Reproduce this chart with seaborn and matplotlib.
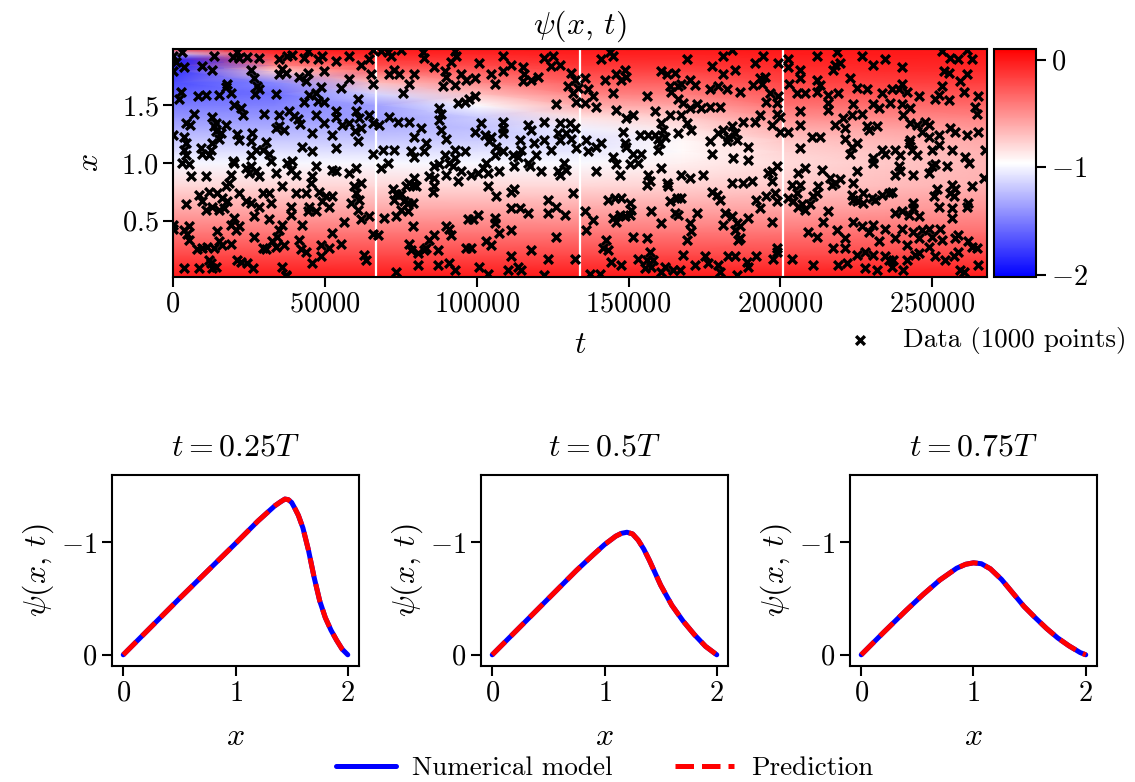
import numpy as np
import matplotlib
matplotlib.use("Agg")
import matplotlib.pyplot as plt
import seaborn as sns

# Durée totale de la simulation
T_END = 268000

x_grid = [0.0, 0.2, 0.4, 0.6, 0.8, 1.0, 1.1, 1.2, 1.3, 1.4, 1.5, 1.6, 1.7, 1.8, 1.85, 1.9, 1.95, 2.0]
t_cols = [0.0, 0.125, 0.25, 0.375, 0.5, 0.625, 0.75, 0.875, 1.0]
psi_t0000 = [0, -0.2, -0.4, -0.6, -0.8, -1.0, -1.1, -1.2, -1.3, -1.4, -1.5, -1.6, -1.7, -1.8, -1.85, -1.88, -1.2, 0]
psi_t0125 = [0, -0.2, -0.4, -0.6, -0.79, -0.99, -1.09, -1.19, -1.29, -1.39, -1.48, -1.56, -1.45, -0.75, -0.47, -0.27, -0.11, 0]
psi_t0250 = [0, -0.2, -0.4, -0.6, -0.79, -0.99, -1.09, -1.19, -1.28, -1.36, -1.355, -1.13, -0.69, -0.33, -0.22, -0.13, -0.05, 0]
psi_t0375 = [0, -0.2, -0.4, -0.6, -0.8, -0.99, -1.08, -1.17, -1.22, -1.17, -0.97, -0.70, -0.47, -0.29, -0.2, -0.12, -0.05, 0]
psi_t0500 = [0, -0.2, -0.4, -0.6, -0.8, -0.98, -1.055, -1.09, -1.02, -0.84, -0.62, -0.44, -0.30, -0.18, -0.125, -0.075, -0.035, 0]
psi_t0625 = [0, -0.2, -0.4, -0.59, -0.77, -0.90, -0.94, -0.93, -0.86, -0.74, -0.58, -0.43, -0.30, -0.18, -0.13, -0.08, -0.035, 0]
psi_t0750 = [0, -0.2, -0.395, -0.58, -0.74, -0.818, -0.78, -0.72, -0.62, -0.49, -0.38, -0.28, -0.19, -0.11, -0.08, -0.05, -0.02, 0]
psi_t0875 = [0, -0.2, -0.38, -0.55, -0.68, -0.73, -0.71, -0.66, -0.58, -0.47, -0.36, -0.25, -0.16, -0.09, -0.06, -0.035, -0.015, 0]
psi_t1000 = [0, -0.19, -0.37, -0.52, -0.63, -0.66, -0.64, -0.60, -0.53, -0.44, -0.34, -0.25, -0.16, -0.09, -0.06, -0.035, -0.015, 0]

# Points de mesure (t en milliers, x)
t_obs_k = [
    0.0, 2.9, 0.9, 3.6, 0.1, 13.5, 9.7, 13.0, 19.6, 21.8, 21.2, 24.5, 28.3, 25.6, 35.0, 37.7, 39.3, 36.0, 35.0, 37.1,
    43.2, 44.3, 47.6, 49.2, 49.8, 53.6, 58.0, 61.9, 64.6, 65.7, 41.5, 43.7, 44.3, 58.0, 65.2, 65.7, 26.7, 27.8, 28.3, 27.0,
    17.9, 19.0, 17.4, 33.9, 8.3, 10.8, 15.2, 2.5, 2.0, 44.8, 47.0, 48.7, 47.6, 49.8, 43.2, 55.3, 60.8, 20.1, 22.3, 22.9,
    30.0, 35.0, 38.2, 39.9, 41.0, 41.8, 47.0, 49.8, 53.6, 53.6, 55.8, 58.0, 60.2, 61.3, 61.9, 60.0, 64.6, 65.7, 6.9, 13.0,
    14.1, 17.6, 13.5, 4.2, 5.5, 33.9, 36.6, 35.0, 0.1, 3.6, 4.2, 3.6, 4.2, 9.1, 9.7, 12.4, 13.0, 15.2, 15.7, 14.1,
    21.2, 21.8, 26.1, 25.6, 30.6, 27.3, 29.5, 31.6, 25.6, 42.6, 45.9, 45.9, 52.5, 53.6, 60.8, 65.7, 19.6, 39.3, 11.9,
    68.5, 70.7, 71.8, 75.1, 82.2, 82.8, 92.7, 93.2, 86.1, 89.4, 89.9, 91.6, 94.9, 96.5, 92.7, 88.8, 77.8, 79.5, 71.2, 72.9,
    74.5, 75.6, 99.3, 100.9, 104.8, 105.9, 108.6, 108.6, 111.4, 115.2, 115.5, 115.2, 118.0, 120.1, 122.3, 125.1, 124.5, 127.3, 131.1, 132.2,
    130.0, 131.7, 132.8, 126.2, 93.8, 96.0, 97.6, 99.3, 87.7, 88.3, 87.7, 71.2, 74.0, 77.8, 88.3, 89.9, 79.5, 83.3, 82.8, 78.4,
    79.5, 72.9, 69.0, 99.3, 102.6, 104.8, 104.2, 106.4, 108.6, 105.9, 108.6, 108.6, 108.6, 111.9, 113.5, 114.1, 116.8, 118.0, 122.3, 122.3,
    124.5, 127.3, 126.7, 127.3, 129.5, 130.6, 131.1, 132.2, 132.8, 119.6, 92.7, 89.4, 96.0, 92.7, 67.9, 133.3, 81.7, 101.5, 114.6, 119.0,
    141.0, 143.8, 144.9, 142.1, 146.0, 148.7, 149.3, 147.6, 135.5, 136.6, 138.3, 135.5, 139.4, 144.9, 146.0, 149.3, 151.5, 155.9, 160.8, 162.5,
    165.2, 169.1, 170.2, 171.8, 163.6, 164.1, 166.3, 167.4, 166.3, 168.0, 170.2, 172.4, 174.0, 176.8, 180.1, 176.8, 179.5, 182.3, 186.7, 181.2,
    177.3, 181.2, 183.9, 185.0, 191.6, 194.3, 193.2, 194.9, 191.0, 193.8, 199.3, 196.5, 199.3, 198.7, 195.4, 198.7, 199.8, 197.1, 193.2, 191.6,
    187.8, 158.6, 163.6, 167.4, 169.1, 170.7, 160.8, 161.4, 161.9, 159.7, 160.3, 159.7, 158.6, 156.4, 153.7, 148.2, 148.7, 149.3, 151.5, 154.2,
    144.9, 136.1, 136.6, 139.4, 141.0, 166.3, 176.8, 177.3, 179.5, 181.2, 182.8, 183.9, 185.0, 185.6, 182.3, 184.5, 189.4, 189.4, 199.8,
    202.6, 202.6, 202.8, 206.4, 206.4, 211.9, 211.9, 213.0, 211.9, 208.1, 205.3, 218.5, 218.0, 217.4, 219.6, 222.9, 226.8, 230.6, 234.5, 240.0,
    225.1, 228.4, 233.4, 236.7, 238.9, 241.6, 240.0, 245.5, 242.7, 253.2, 255.9, 258.6, 261.4, 263.0, 253.7, 255.4, 261.4, 259.2, 260.3, 253.2,
    252.1, 255.4, 251.0, 265.2, 264.1, 264.7, 215.8, 215.8, 215.8, 219.1, 224.0, 230.6, 232.3, 236.1, 240.0, 240.5, 206.4, 206.4, 223.5, 226.8,
    220.7, 218.0, 221.3, 228.4, 229.0, 231.7, 242.7, 244.9, 247.7, 248.8, 246.6, 252.1, 255.9, 257.5, 261.4, 265.2, 202.6, 210.3, 213.0, 221.3,
    223.5, 225.1, 222.9, 230.6, 233.4, 234.5, 237.8, 239.4, 242.2, 242.7, 243.3, 244.9, 248.8, 249.9, 252.1, 256.5, 260.8, 267.4, 206.4,
    3.1, 5.3, 5.8, 10.8, 20.1, 24.0, 25.6, 27.3, 25.1, 28.4, 32.2, 33.8, 37.7, 38.8, 40.4, 47.0, 45.9, 45.4, 52.5, 53.6,
    58.0, 60.2, 61.9, 59.7, 60.2, 61.3, 19.0, 18.5, 17.4, 36.0, 8.6, 9.7, 11.9, 14.6, 16.3, 13.0, 10.8, 15.2, 16.8, 4.2,
    17.9, 21.8, 24.0, 25.6, 28.4, 29.5, 31.7, 32.2, 40.4, 43.7, 48.1, 49.2, 50.3, 52.5, 44.8, 44.3, 47.0, 38.8, 38.8, 31.7,
    34.9, 36.0, 34.4, 32.7, 33.8, 36.6, 30.6, 29.5, 26.7, 26.7, 20.1, 19.0, 20.7, 21.8, 19.0, 15.2, 14.6, 5.3, 3.6, 4.7,
    5.3, 0.1, 0.1, 8.0, 9.7, 11.3, 13.5, 16.3, 11.9, 12.4, 14.1, 13.0, 21.2, 22.3, 24.5, 26.2, 8.6, 3.6, 36.0, 37.1,
    42.6, 41.5, 42.1, 43.7, 45.9, 48.7, 48.7, 51.4, 52.5, 55.3, 56.4, 58.6, 60.8, 61.9, 64.6, 65.7, 63.0, 63.5, 37.1, 51.4,
    68.5, 70.7, 86.1, 87.7, 89.9, 91.0, 92.1, 94.9, 93.8, 98.2, 100.4, 102.0, 103.1, 103.7, 107.5, 112.4, 116.8, 117.4, 121.2, 126.7,
    127.3, 128.9, 129.5, 86.1, 86.1, 85.5, 84.4, 79.5, 78.9, 77.8, 76.7, 80.0, 72.3, 73.4, 72.9, 75.1, 76.2, 77.3, 78.9, 75.1,
    77.3, 73.4, 69.6, 103.7, 106.4, 111.3, 112.4, 123.4, 126.2, 131.7, 111.3, 114.1, 116.8, 123.4, 129.0, 100.4, 97.1, 98.7, 105.9, 105.9,
    78.9, 89.9, 91.0, 91.6, 86.1, 84.4, 107.5, 111.3, 126.2, 77.8, 78.4, 80.6, 82.8, 83.3, 87.2, 96.5, 98.2, 103.1, 104.8, 118.0,
    111.3, 123.4, 132.2, 80.6, 87.2, 91.0, 92.7, 100.9, 103.7, 110.3, 113.5, 114.6, 73.4, 122.3, 67.4,
    139.4, 146.0, 147.1, 150.4, 153.1, 156.4, 157.0, 155.9, 160.8, 162.5, 163.0, 167.4, 170.2, 174.6, 177.3, 179.0, 180.1, 183.9, 187.8, 190.5,
    196.0, 197.1, 198.7, 197.1, 198.2, 198.7, 195.4, 192.1, 193.2, 143.2, 145.4, 147.6, 150.4, 150.9, 150.4, 147.1, 144.9, 146.0, 148.7, 135.5,
    138.3, 136.1, 157.5, 160.8, 163.6, 165.8, 167.4, 165.2, 166.3, 172.4, 170.2, 170.7, 169.1, 181.7, 181.2, 183.9, 185.6, 186.7, 189.4, 185.0,
    186.7, 186.1, 197.1, 151.5, 155.9, 142.7, 141.6, 143.2, 157.0, 153.1, 155.9, 158.1, 157.5, 155.3, 144.3, 147.6, 140.5, 137.2, 160.8, 161.9,
    164.7, 166.9, 168.0, 171.8, 175.1, 176.2, 179.5, 180.1, 182.8, 185.0, 185.6, 188.9, 189.4, 192.1, 197.6, 198.7, 198.7,
    205.9, 208.1, 213.6, 203.7, 206.4, 205.3, 202.6, 204.2, 205.9, 207.0, 208.1, 209.7, 210.8, 211.9, 212.5, 216.3, 218.0, 219.6, 216.9, 215.8,
    214.1, 224.0, 225.1, 223.5, 224.0, 227.3, 225.1, 227.3, 230.1, 231.2, 233.4, 235.6, 236.7, 230.6, 237.8, 238.9, 239.4, 243.8, 248.8, 249.9,
    251.0, 254.8, 262.0, 263.0, 266.9, 251.5, 250.4, 256.5, 257.5, 255.9, 257.0, 261.9, 261.4, 252.1, 256.5, 256.5, 237.8, 240.0, 242.2, 243.8,
    243.8, 245.5, 224.0, 226.8, 229.0, 230.6, 234.5, 237.8, 240.0, 243.8, 245.5, 246.6, 248.8, 249.9, 252.6, 253.2, 257.5, 258.6, 261.9, 263.0,
    264.7, 209.2, 211.9, 218.5, 221.3, 217.4, 221.3, 225.1, 227.9, 230.6, 232.3, 234.5, 235.6, 237.2, 236.7, 241.6, 244.4, 245.5, 248.8, 251.0,
    254.3, 257.0, 258.6, 203.7, 210.8, 219.1, 221.8, 227.9, 231.7, 240.5, 241.6, 259.2, 260.3, 265.2,
]
x_obs = [
    1.93, 1.96, 1.88, 1.83, 1.80, 1.93, 1.84, 1.81, 1.92, 1.91, 1.96, 1.92, 1.91, 1.81, 1.90, 1.93, 1.94, 1.82, 1.77, 1.78,
    1.91, 1.97, 1.90, 1.93, 1.80, 1.89, 1.93, 1.85, 1.90, 1.98, 1.75, 1.71, 1.78, 1.73, 1.77, 1.69, 1.74, 1.67, 1.64, 1.60,
    1.69, 1.61, 1.66, 1.60, 1.58, 1.59, 1.59, 1.62, 1.56, 1.59, 1.61, 1.66, 1.54, 1.53, 1.53, 1.65, 1.56, 1.50, 1.48, 1.42,
    1.43, 1.42, 1.45, 1.41, 1.38, 1.34, 1.42, 1.35, 1.45, 1.40, 1.33, 1.35, 1.45, 1.39, 1.30, 1.28, 1.42, 1.35, 1.43, 1.40,
    1.35, 1.33, 1.32, 1.35, 1.33, 1.30, 1.29, 1.32, 1.24, 1.23, 1.17, 1.11, 1.07, 1.13, 1.08, 1.11, 1.17, 1.21, 1.26, 1.28,
    1.25, 1.20, 1.26, 1.19, 1.18, 1.11, 1.11, 1.08, 1.07, 1.14, 1.10, 1.26, 1.24, 1.13, 1.19, 1.08, 1.02, 1.02, 1.07,
    1.97, 1.96, 1.93, 1.98, 1.96, 1.91, 1.97, 1.93, 1.83, 1.80, 1.75, 1.88, 1.77, 1.72, 1.68, 1.67, 1.69, 1.77, 1.77, 1.81,
    1.77, 1.61, 1.74, 1.87, 1.77, 1.69, 1.93, 1.80, 1.85, 1.83, 1.77, 1.71, 1.72, 1.75, 1.91, 1.93, 1.84, 1.85, 1.78, 1.72,
    1.67, 1.61, 1.53, 1.51, 1.52, 1.53, 1.56, 1.58, 1.48, 1.43, 1.37, 1.40, 1.36, 1.36, 1.29, 1.21, 1.23, 1.17, 1.10, 1.10,
    1.05, 1.11, 1.11, 1.27, 1.24, 1.23, 1.19, 1.14, 1.10, 1.07, 1.36, 1.30, 1.26, 1.07, 1.05, 1.20, 1.33, 1.29, 1.36, 1.20,
    1.11, 1.35, 1.26, 1.20, 1.26, 1.35, 1.21, 1.30, 1.13, 1.07, 1.11, 1.07, 1.10, 1.04, 1.33, 1.65, 1.30, 1.35, 1.11, 1.17,
    1.90, 1.96, 1.93, 1.72, 1.77, 1.81, 1.75, 1.72, 1.74, 1.64, 1.58, 1.52, 1.49, 1.61, 1.46, 1.39, 1.42, 1.58, 1.80, 1.77,
    1.78, 1.90, 1.72, 1.68, 1.67, 1.62, 1.67, 1.69, 1.56, 1.52, 1.48, 1.51, 1.48, 1.49, 1.49, 1.64, 1.67, 1.64, 1.62, 1.77,
    1.84, 1.93, 1.98, 1.81, 1.87, 1.93, 1.74, 1.75, 1.68, 1.69, 1.87, 1.61, 1.58, 1.52, 1.53, 1.43, 1.40, 1.33, 1.42, 1.36,
    1.36, 1.45, 1.42, 1.42, 1.35, 1.29, 1.35, 1.29, 1.23, 1.21, 1.17, 1.11, 1.24, 1.24, 1.24, 1.27, 1.17, 1.14, 1.08, 1.08,
    1.05, 1.20, 1.10, 1.14, 1.17, 1.26, 1.19, 1.08, 1.26, 1.29, 1.23, 1.32, 1.26, 1.20, 1.19, 1.04, 1.14, 1.025, 1.27,
    1.90, 1.83, 1.69, 1.81, 1.74, 1.93, 1.72, 1.68, 1.62, 1.61, 1.61, 1.96, 1.85, 1.81, 1.87, 1.74, 1.93, 1.85, 1.90, 1.83,
    1.65, 1.64, 1.61, 1.64, 1.64, 1.62, 1.69, 1.58, 1.48, 1.97, 1.91, 1.90, 1.985, 1.90, 1.80, 1.78, 1.77, 1.71, 1.62, 1.67,
    1.59, 1.55, 1.56, 1.58, 1.49, 1.43, 1.59, 1.52, 1.46, 1.61, 1.51, 1.51, 1.48, 1.52, 1.51, 1.42, 1.45, 1.33, 1.42, 1.43,
    1.39, 1.33, 1.30, 1.32, 1.29, 1.32, 1.35, 1.33, 1.36, 1.33, 1.27, 1.24, 1.30, 1.27, 1.24, 1.27, 1.27, 1.23, 1.23, 1.21,
    1.14, 1.17, 1.08, 1.04, 1.11, 1.08, 1.11, 1.07, 1.17, 1.20, 1.11, 1.07, 1.23, 1.11, 1.16, 1.11, 1.05, 1.11, 1.13,
    1.00, 0.99, 0.89, 0.89, 1.00, 0.96, 0.97, 0.93, 0.91, 0.89, 1.02, 0.91, 1.00, 0.94, 0.90, 0.97, 0.89, 0.83, 0.94, 0.93,
    0.91, 0.96, 0.83, 0.80, 0.74, 0.68, 0.90, 0.83, 0.80, 0.80, 0.72, 0.67, 0.75, 0.74, 0.70, 0.62, 0.59, 0.59, 0.61, 0.64,
    0.67, 0.74, 0.67, 0.65, 0.62, 0.74, 0.74, 0.65, 0.74, 0.74, 0.75, 0.67, 0.71, 0.71, 0.62, 0.58, 0.58, 0.62, 0.55, 0.51,
    0.42, 0.46, 0.36, 0.32, 0.27, 0.29, 0.25, 0.26, 0.36, 0.54, 0.52, 0.46, 0.42, 0.45, 0.30, 0.32, 0.41, 0.45, 0.42, 0.38,
    0.33, 0.46, 0.43, 0.25, 0.26, 0.27, 0.26, 0.29, 0.16, 0.13, 0.10, 0.085, 0.16, 0.14, 0.13, 0.085, 0.085, 0.085, 0.10, 0.03,
    0.46, 0.33, 0.25, 0.23, 0.13, 0.29, 0.19, 0.26, 0.39, 0.30, 0.49, 0.65, 0.59, 0.51, 0.54, 0.38, 0.20, 0.16, 0.015, 0.62,
    0.96, 1.00, 0.97, 0.99, 0.90, 1.00, 0.97, 0.93, 0.84, 0.90, 0.91, 0.96, 1.00, 0.91, 0.93, 0.97, 1.00, 0.97, 0.93, 0.93,
    0.90, 1.00, 0.94, 0.87, 0.80, 0.75, 0.89, 0.87, 0.81, 0.83, 0.80, 0.80, 0.77, 0.73, 0.68, 0.73, 0.67, 0.65, 0.65, 0.59,
    0.58, 0.536, 0.52, 0.80, 0.71, 0.75, 0.77, 0.68, 0.62, 0.74, 0.61, 0.61, 0.565, 0.565, 0.55, 0.55, 0.51, 0.51, 0.52, 0.48,
    0.45, 0.45, 0.43, 0.375, 0.375, 0.33, 0.39, 0.42, 0.36, 0.30, 0.245, 0.22, 0.245, 0.26, 0.245, 0.26, 0.26, 0.32, 0.29, 0.245,
    0.19, 0.17, 0.17, 0.11, 0.11, 0.13, 0.07, 0.10, 0.04, 0.07, 0.10, 0.07, 0.056, 0.027, 0.375,
    0.93, 0.99, 0.90, 0.99, 1.00, 0.90, 0.84, 0.81, 0.96, 0.83, 0.80, 0.90, 0.87, 0.90, 0.75, 0.725, 0.68, 0.83, 0.83, 0.84,
    0.91, 0.93, 0.97, 0.84, 0.74, 0.67, 0.71, 0.68, 0.61, 0.68, 0.70, 0.70, 0.65, 0.59, 0.55, 0.55, 0.52, 0.49, 0.536, 0.58,
    0.507, 0.42, 0.58, 0.48, 0.67, 0.70, 0.70, 0.565, 0.55, 0.565, 0.48, 0.41, 0.33, 0.565, 0.46, 0.536, 0.48, 0.45, 0.52, 0.42,
    0.35, 0.33, 0.49, 0.36, 0.35, 0.33, 0.26, 0.245, 0.23, 0.17, 0.16, 0.16, 0.10, 0.085, 0.14, 0.11, 0.04, 0.04, 0.056, 0.10,
    0.07, 0.07, 0.20, 0.114, 0.19, 0.13, 0.114, 0.056, 0.19, 0.19, 0.027, 0.143, 0.10, 0.19, 0.17, 0.26, 0.23,
    0.91, 0.96, 0.94, 0.81, 0.81, 0.74, 0.70, 0.67, 0.62, 0.64, 0.59, 0.64, 0.71, 0.74, 0.80, 0.87, 0.83, 0.86, 0.81, 0.58,
    0.49, 0.83, 0.93, 0.725, 0.68, 0.74, 0.67, 0.65, 0.70, 0.68, 0.725, 0.74, 0.75, 1.00, 0.90, 0.97, 0.93, 0.90, 0.91, 0.97,
    0.99, 0.97, 1.00, 0.80, 0.87, 0.77, 0.71, 0.81, 0.77, 0.74, 0.71, 0.65, 0.62, 0.62, 0.61, 0.52, 0.565, 0.58, 0.55, 0.65,
    0.61, 0.536, 0.49, 0.449, 0.405, 0.46, 0.43, 0.35, 0.43, 0.405, 0.35, 0.42, 0.43, 0.36, 0.43, 0.33, 0.35, 0.375, 0.32, 0.27,
    0.26, 0.405, 0.36, 0.42, 0.35, 0.26, 0.26, 0.20, 0.23, 0.20, 0.32, 0.19, 0.16, 0.16, 0.10, 0.29, 0.20, 0.22, 0.27, 0.19,
    0.16, 0.19, 0.23, 0.17, 0.114, 0.114, 0.13, 0.085, 0.07, 0.07, 0.16, 0.07, 0.056, 0.114,
]

# Profils aux trois instants (modèle numérique = prédiction)
x_q1 = [0, 0.25, 0.5, 0.75, 1.0, 1.2, 1.3, 1.35, 1.4, 1.44, 1.47, 1.5, 1.53, 1.56, 1.6, 1.65, 1.7, 1.75, 1.8, 1.85, 1.9, 1.95, 2.0]
psi_q1 = [0, -0.25, -0.5, -0.745, -0.99, -1.19, -1.28, -1.325, -1.36, -1.385, -1.38, -1.355, -1.30, -1.24, -1.13, -0.93, -0.69, -0.48, -0.33, -0.22, -0.13, -0.05, 0.0]
x_q2 = [0, 0.25, 0.5, 0.75, 0.9, 1.0, 1.1, 1.15, 1.2, 1.25, 1.3, 1.35, 1.4, 1.5, 1.6, 1.7, 1.8, 1.9, 2.0]
psi_q2 = [0, -0.25, -0.5, -0.75, -0.89, -0.98, -1.055, -1.08, -1.09, -1.075, -1.02, -0.94, -0.84, -0.62, -0.44, -0.30, -0.18, -0.075, 0.0]
x_q3 = [0, 0.2, 0.4, 0.55, 0.7, 0.85, 0.93, 1.0, 1.07, 1.15, 1.25, 1.35, 1.45, 1.55, 1.65, 1.75, 1.85, 1.95, 2.0]
psi_q3 = [0, -0.2, -0.395, -0.535, -0.665, -0.77, -0.805, -0.818, -0.81, -0.765, -0.67, -0.55, -0.43, -0.33, -0.235, -0.15, -0.08, -0.02, 0.0]

panel_titles = [r"$t=0.25T$", r"$t=0.5T$", r"$t=0.75T$"]

sns.set_theme(style="ticks", rc={
    "axes.edgecolor": "black", "axes.linewidth": 1.5,
    "xtick.color": "black", "ytick.color": "black",
    "xtick.major.size": 7, "ytick.major.size": 7,
    "xtick.major.width": 1.5, "ytick.major.width": 1.5,
    "text.color": "black", "axes.labelcolor": "black",
})
plt.rcParams["font.family"] = ["cmr10", "DejaVu Serif"]
plt.rcParams["mathtext.fontset"] = "cm"
plt.rcParams["axes.formatter.use_mathtext"] = True
for key in ["font.size", "legend.fontsize"]:
    plt.rcParams[key] = 19.5
plt.rcParams["xtick.labelsize"] = 20.5
plt.rcParams["ytick.labelsize"] = 20.5
plt.rcParams["axes.titlesize"] = 23
plt.rcParams["axes.labelsize"] = 23

fig = plt.figure(figsize=(11.35, 7.82), dpi=100)

# --- carte psi(x, t)
ax_map = fig.add_axes([0.1524, 0.6458, 0.7172, 0.2915])
cax = fig.add_axes([0.8758, 0.6458, 0.0370, 0.2915])

field = np.array([psi_t0000, psi_t0125, psi_t0250, psi_t0375, psi_t0500,
                  psi_t0625, psi_t0750, psi_t0875, psi_t1000]).T
tt, xx = np.meshgrid(np.array(t_cols) * T_END, x_grid)
mesh = ax_map.pcolormesh(tt, xx, field, cmap="bwr", vmin=-2.02, vmax=0.10, shading="gouraud")

for frac in [0.25, 0.5, 0.75]:
    ax_map.axvline(frac * T_END, color="white", lw=1.6, zorder=2)

n = min(len(t_obs_k), len(x_obs))
sns.scatterplot(x=np.array(t_obs_k[:n]) * 1000, y=x_obs[:n], ax=ax_map, marker="x",
                color="black", s=40, linewidth=2.4, zorder=3, label="Data (1000 points)")
if ax_map.get_legend() is not None:
    ax_map.get_legend().remove()

ax_map.set_xlim(0, T_END)
ax_map.set_ylim(0.01, 1.99)
ax_map.set_xticks([0, 50000, 100000, 150000, 200000, 250000])
ax_map.set_yticks([0.5, 1.0, 1.5])
ax_map.set_title(r"$\psi(x,\,t)$", pad=11)
ax_map.set_xlabel(r"$t$", labelpad=10)
ax_map.set_ylabel(r"$x$", labelpad=12)

cb = fig.colorbar(mesh, cax=cax, ticks=[0, -1, -2])
cb.outline.set_linewidth(1.5)
cax.tick_params(length=7, width=1.5)

h, l = ax_map.get_legend_handles_labels()
fig.legend(h, l, loc="center", bbox_to_anchor=(0.863, 0.565), frameon=False,
           handletextpad=0.6, borderaxespad=0)

# --- profils
lefts = [0.0987, 0.4238, 0.7489]
profiles = [(x_q1, psi_q1), (x_q2, psi_q2), (x_q3, psi_q3)]
panel_axes = []
for i, (xs, ps) in enumerate(profiles):
    ax = fig.add_axes([lefts[i], 0.1483, 0.2176, 0.2444])
    sns.lineplot(x=xs, y=ps, ax=ax, color="blue", lw=3.6, sort=False,
                 label="Numerical model" if i == 1 else None)
    sns.lineplot(x=xs, y=ps, ax=ax, color="red", lw=3.6, linestyle="--", sort=False,
                 label="Prediction" if i == 1 else None)
    if ax.get_legend() is not None:
        ax.get_legend().remove()
    ax.set_xlim(-0.1, 2.1)
    ax.set_ylim(0.1, -1.6)
    ax.set_xticks([0, 1, 2])
    ax.set_yticks([0, -1])
    ax.set_title(panel_titles[i], pad=14)
    ax.set_xlabel(r"$x$", labelpad=12)
    ax.set_ylabel(r"$\psi(x,\,t)$", labelpad=4)
    panel_axes.append(ax)

h2, l2 = panel_axes[1].get_legend_handles_labels()
panel_axes[1].legend(h2, l2, loc="center", bbox_to_anchor=(0.5, -0.535), ncol=2,
                     frameon=False, handlelength=2.2, handletextpad=0.6, columnspacing=2.3,
                     borderaxespad=0)

fig.savefig("out.png", dpi=100)
